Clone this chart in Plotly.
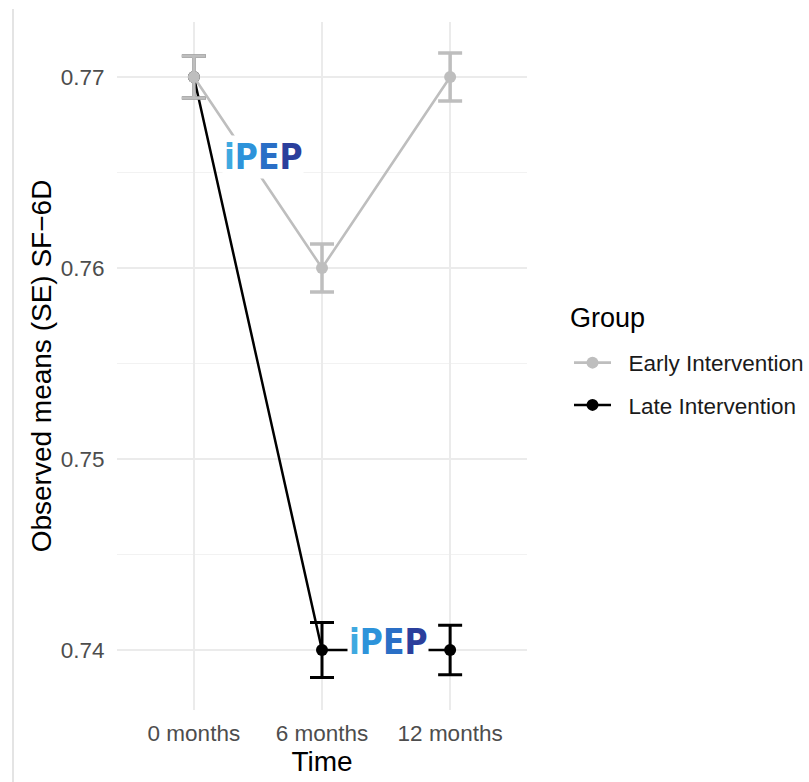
import plotly.graph_objects as go

time_labels = ["0 months", "6 months", "12 months"]
early_mean = [0.770, 0.760, 0.770]
early_se = [0.0011, 0.00126, 0.00126]
late_mean = [0.770, 0.740, 0.740]
late_se = [0.0011, 0.00144, 0.0013]
y_ticks = [0.74, 0.75, 0.76, 0.77]

GRAY = "#bebebe"
BLACK = "#000000"
NB = "\u00a0\u00a0"

fig = go.Figure()

fig.add_trace(go.Scatter(
    x=time_labels, y=late_mean, mode="lines+markers", name=NB + "Late Intervention",
    line=dict(color=BLACK, width=2.5), marker=dict(color=BLACK, size=12),
    error_y=dict(type="data", array=late_se, color=BLACK, thickness=3, width=12),
    legendrank=2, legendgroup="late",
))
fig.add_trace(go.Scatter(
    x=time_labels, y=early_mean, mode="lines+markers", name=NB + "Early Intervention",
    line=dict(color=GRAY, width=2.6), marker=dict(color=GRAY, size=12),
    error_y=dict(type="data", array=early_se, color=GRAY, thickness=3.5, width=12),
    legendrank=1, legendgroup="early",
))

logo = ("<b><span style='color:#3fa9e0'>i</span>"
        "<span style='color:#2d93da'>P</span>"
        "<span style='color:#2a6fc6'>E</span>"
        "<span style='color:#2b3f9c'>P</span></b>")
for lx, ly in [(0.54, 0.7658), (1.516, 0.74042)]:
    fig.add_annotation(
        x=lx, y=ly, xref="x", yref="y", text=logo, showarrow=False,
        font=dict(family="DejaVu Sans Condensed, DejaVu Sans", size=35, color="#2b6fc6"),
        bgcolor="white", borderpad=1,
    )

fig.add_annotation(
    x=1.1, y=0.5698, xref="paper", yref="paper", xanchor="left", yanchor="middle",
    text="Group", showarrow=False, font=dict(size=27, color="#000000"),
)

fig.add_shape(type="line", xref="paper", yref="paper",
              x0=-0.2537, x1=-0.2537, y0=1.019, y1=-0.11,
              line=dict(color="#e4e4e4", width=2))

fig.update_layout(
    width=809, height=782,
    margin=dict(l=117, r=282, t=22, b=72, autoexpand=False),
    paper_bgcolor="white", plot_bgcolor="white",
    font=dict(family="Liberation Sans, Arial, sans-serif", color="#000000"),
    legend=dict(
        xref="container", x=569 / 809, xanchor="left", y=0.5356, yanchor="top",
        font=dict(size=22.5, color="#1a1a1a"),
        tracegroupgap=10, itemwidth=37,
    ),
    showlegend=True,
)

fig.update_xaxes(
    type="category", range=[-0.6, 2.6],
    showgrid=True, gridcolor="#ebebeb", gridwidth=2,
    zeroline=False, showline=False,
    ticks="outside", ticklen=3, tickcolor="rgba(0,0,0,0)",
    tickfont=dict(size=22.5, color="#4d4d4d"),
    title=dict(text="Time", font=dict(size=28, color="#000000"), standoff=2),
)
fig.update_yaxes(
    range=[0.73686, 0.77288],
    tickvals=y_ticks, ticktext=[f"{v:.2f}" for v in y_ticks],
    showgrid=True, gridcolor="#ebebeb", gridwidth=2,
    minor=dict(dtick=0.005, tick0=0.745, showgrid=True, gridcolor="#f2f2f2", gridwidth=1),
    zeroline=False, showline=False,
    ticks="outside", ticklen=7, tickcolor="rgba(0,0,0,0)",
    tickfont=dict(size=22.5, color="#4d4d4d"),
    title=dict(text="Observed means (SE) SF\u22126D", font=dict(size=28, color="#000000"), standoff=0),
)

fig.write_html("out.html",
               config={"displayModeBar": False},
               post_script="document.body.style.margin='0';document.body.style.overflow='hidden';")
